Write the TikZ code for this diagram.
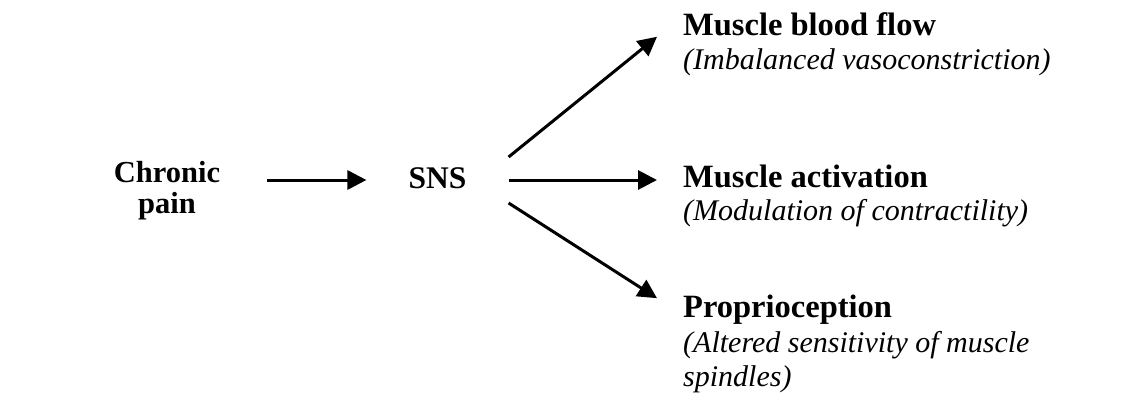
\documentclass[tikz,border=0pt]{standalone}
\usepackage{fontspec}
\setmainfont{Liberation Serif}
\usetikzlibrary{arrows.meta}
\begin{document}
\begin{tikzpicture}[x=1pt,y=-1pt,
  lbl/.style={inner sep=0pt},
  hd/.style={lbl, font=\fontsize{32.5}{32}\selectfont\bfseries},
  sub/.style={lbl, anchor=base west, font=\fontsize{30}{32}\selectfont\itshape},
  arr/.style={line width=3pt, -{Triangle[length=19pt,width=19pt]}}]
\useasboundingbox (0,0) rectangle (1145,408);
% source and hub
\node[hd, align=center, font=\fontsize{30.5}{31}\selectfont\bfseries] (chronic) at (167,191) {Chronic\\pain};
\node[hd, font=\fontsize{31.5}{32}\selectfont\bfseries] (sns) at (437.5,178) {SNS};
% targets
\node[hd, anchor=base west] (flow) at (683,35) {Muscle blood flow};
\node[sub] (vaso) at (683,69) {(Imbalanced vasoconstriction)};
\node[hd, anchor=base west] (act) at (683,187) {Muscle activation};
\node[sub] (mod) at (683,220) {(Modulation of contractility)};
\node[hd, anchor=base west] (prop) at (683,317) {Proprioception};
\node[sub] (alt) at (683,352) {(Altered sensitivity of muscle};
\node[sub] (spin) at (683,386) {spindles)};
% connectors
\draw[arr, shorten <=47pt, shorten >=42pt] ([yshift=-2pt]chronic.east |- sns.west) -- ([yshift=-2pt]sns.west);
\draw[arr, shorten <=42pt, shorten >=26pt] ([yshift=-2pt]sns.east) -- ([yshift=-2pt]sns.east -| act.west);
\draw[arr] ([shift={(42pt,21pt)}]sns.east) -- ([shift={(-26pt,-13pt)}]flow.west);
\draw[arr] ([shift={(42pt,-25pt)}]sns.east) -- ([shift={(-26pt,11pt)}]prop.west);
\end{tikzpicture}
\end{document}
